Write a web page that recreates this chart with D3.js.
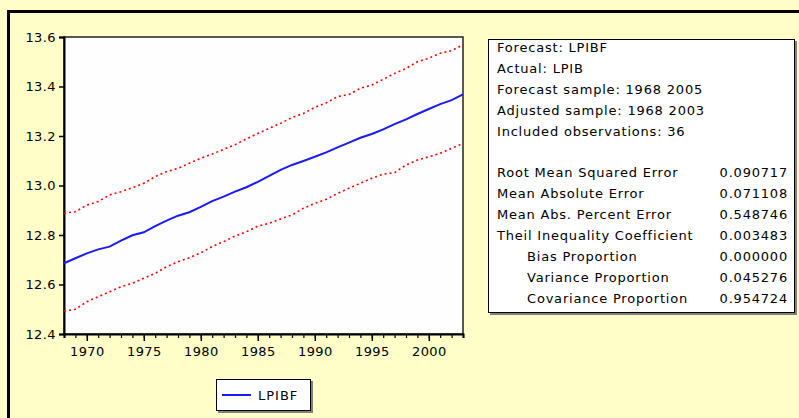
<!DOCTYPE html>
<html>
<head>
<meta charset="utf-8">
<script src="https://cdn.jsdelivr.net/npm/d3@7"></script>
<style>
  body { margin: 0; background: #fffdc8; }
  svg { display: block; }
  text { font-family: "DejaVu Sans", sans-serif; font-size: 13px; fill: #000; }
  .stats text { letter-spacing: 0.8px; }
</style>
</head>
<body>
<div id="chart"></div>
<script>
const width = 799;
const height = 418;

const years = d3.range(1968, 2004);
const lpibf = [
  12.686, 12.706, 12.726, 12.742, 12.753, 12.777, 12.799, 12.811, 12.836, 12.858,
  12.878, 12.892, 12.914, 12.937, 12.955, 12.975, 12.993, 13.015, 13.039, 13.063,
  13.083, 13.099, 13.116, 13.134, 13.154, 13.173, 13.193, 13.208, 13.227, 13.248,
  13.267, 13.289, 13.309, 13.329, 13.345, 13.368,
];
const upper = [
  12.888, 12.894, 12.921, 12.935, 12.962, 12.975, 12.991, 13.009, 13.036, 13.056,
  13.069, 13.090, 13.110, 13.127, 13.146, 13.165, 13.188, 13.210, 13.231, 13.251,
  13.275, 13.291, 13.316, 13.334, 13.359, 13.368, 13.393, 13.406, 13.429, 13.453,
  13.473, 13.500, 13.514, 13.534, 13.545, 13.568,
];
const lower = [
  12.493, 12.500, 12.530, 12.551, 12.571, 12.591, 12.605, 12.625, 12.645, 12.672,
  12.692, 12.708, 12.728, 12.753, 12.773, 12.796, 12.813, 12.836, 12.847, 12.865,
  12.881, 12.908, 12.928, 12.944, 12.968, 12.989, 13.009, 13.029, 13.046, 13.052,
  13.083, 13.103, 13.116, 13.130, 13.150, 13.170,
];
const yTicks = [12.4, 12.6, 12.8, 13.0, 13.2, 13.4, 13.6];
const xTicks = [1970, 1975, 1980, 1985, 1990, 1995, 2000];

const headerLines = [
  "Forecast: LPIBF",
  "Actual: LPIB",
  "Forecast sample: 1968 2005",
  "Adjusted sample: 1968 2003",
  "Included observations: 36",
];
const statNames = [
  "Root Mean Squared Error",
  "Mean Absolute Error",
  "Mean Abs. Percent Error",
  "Theil Inequality Coefficient",
  "Bias Proportion",
  "Variance Proportion",
  "Covariance Proportion",
];
const statValues = ["0.090717", "0.071108", "0.548746", "0.003483", "0.000000", "0.045276", "0.954724"];
const statIndent = [false, false, false, false, true, true, true];

const plot = { left: 64, top: 37, right: 463, bottom: 334 };

const svg = d3.select("#chart").append("svg").attr("width", width).attr("height", height);

// cadre extérieur (coupé à droite et en bas)
svg.append("rect")
  .attr("x", 8.5).attr("y", 11.5)
  .attr("width", width + 20).attr("height", height + 20)
  .attr("fill", "#fffdc8").attr("stroke", "#000").attr("stroke-width", 3);

const x = d3.scaleLinear().domain([1968, 2003]).range([plot.left, plot.right]);
const y = d3.scaleLinear().domain([12.4, 13.6]).range([plot.bottom, plot.top]);

svg.append("rect")
  .attr("x", plot.left).attr("y", plot.top)
  .attr("width", plot.right - plot.left).attr("height", plot.bottom - plot.top)
  .attr("fill", "#fefefe").attr("stroke", "#222").attr("stroke-width", 1.5);

// axe Y
const yAxis = svg.append("g").attr("transform", `translate(${plot.left},0)`)
  .call(d3.axisLeft(y).tickValues(yTicks).tickFormat(d3.format(".1f")).tickSize(5).tickPadding(3));
yAxis.select(".domain").attr("stroke", "#000").attr("stroke-width", 2);
yAxis.selectAll(".tick line").attr("stroke", "#000").attr("stroke-width", 1.5);

// axe X : petites graduations annuelles, grandes tous les 5 ans
const xAxis = svg.append("g").attr("transform", `translate(0,${plot.bottom})`)
  .call(d3.axisBottom(x).tickValues(years).tickSize(4).tickFormat(""));
xAxis.select(".domain").attr("stroke", "#000").attr("stroke-width", 2);
xAxis.selectAll(".tick line").attr("stroke", "#000").attr("stroke-width", 1.2);
const xMajor = svg.append("g").attr("transform", `translate(0,${plot.bottom})`)
  .call(d3.axisBottom(x).tickValues(xTicks).tickSize(7).tickPadding(6).tickFormat(d3.format("d")));
xMajor.select(".domain").remove();
xMajor.selectAll(".tick line").attr("stroke", "#000").attr("stroke-width", 1.5);
svg.selectAll(".tick text").style("font-size", "13px").style("letter-spacing", "0.4px").attr("fill", "#000");

const line = d3.line().x((d, i) => x(years[i])).y((d) => y(d));

svg.append("path").datum(upper).attr("d", line)
  .attr("fill", "none").attr("stroke", "#ff0000").attr("stroke-width", 1.6).attr("stroke-dasharray", "2,3");
svg.append("path").datum(lower).attr("d", line)
  .attr("fill", "none").attr("stroke", "#ff0000").attr("stroke-width", 1.6).attr("stroke-dasharray", "2,3");
svg.append("path").datum(lpibf).attr("d", line)
  .attr("fill", "none").attr("stroke", "#1a1aff").attr("stroke-width", 2);

// légende
const leg = svg.append("g");
leg.append("rect").attr("x", 218).attr("y", 381).attr("width", 95).attr("height", 32).attr("fill", "#808080");
leg.append("rect").attr("x", 216.5).attr("y", 379.5).attr("width", 94).attr("height", 31)
  .attr("fill", "#fff").attr("stroke", "#000");
leg.append("line").attr("x1", 222).attr("x2", 251).attr("y1", 395).attr("y2", 395)
  .attr("stroke", "#1a1aff").attr("stroke-width", 2);
leg.append("text").attr("x", 258).attr("y", 400).style("letter-spacing", "1px").text("LPIBF");

// tableau des statistiques
const box = svg.append("g").attr("class", "stats");
box.append("rect").attr("x", 490).attr("y", 41).attr("width", 307).attr("height", 274).attr("fill", "#808080");
box.append("rect").attr("x", 488.5).attr("y", 39.5).attr("width", 306).attr("height", 273)
  .attr("fill", "#fff").attr("stroke", "#000");

const rowH = 20.9;
box.selectAll("text.head").data(headerLines).join("text")
  .attr("class", "head")
  .attr("x", 497).attr("y", (d, i) => 52 + i * rowH)
  .text((d) => d);
box.selectAll("text.name").data(statNames).join("text")
  .attr("class", "name")
  .attr("x", (d, i) => (statIndent[i] ? 527 : 497))
  .attr("y", (d, i) => 52 + (i + 6) * rowH)
  .text((d) => d);
box.selectAll("text.val").data(statValues).join("text")
  .attr("class", "val")
  .attr("x", 788).attr("text-anchor", "end")
  .attr("y", (d, i) => 52 + (i + 6) * rowH)
  .text((d) => d);
</script>
</body>
</html>
